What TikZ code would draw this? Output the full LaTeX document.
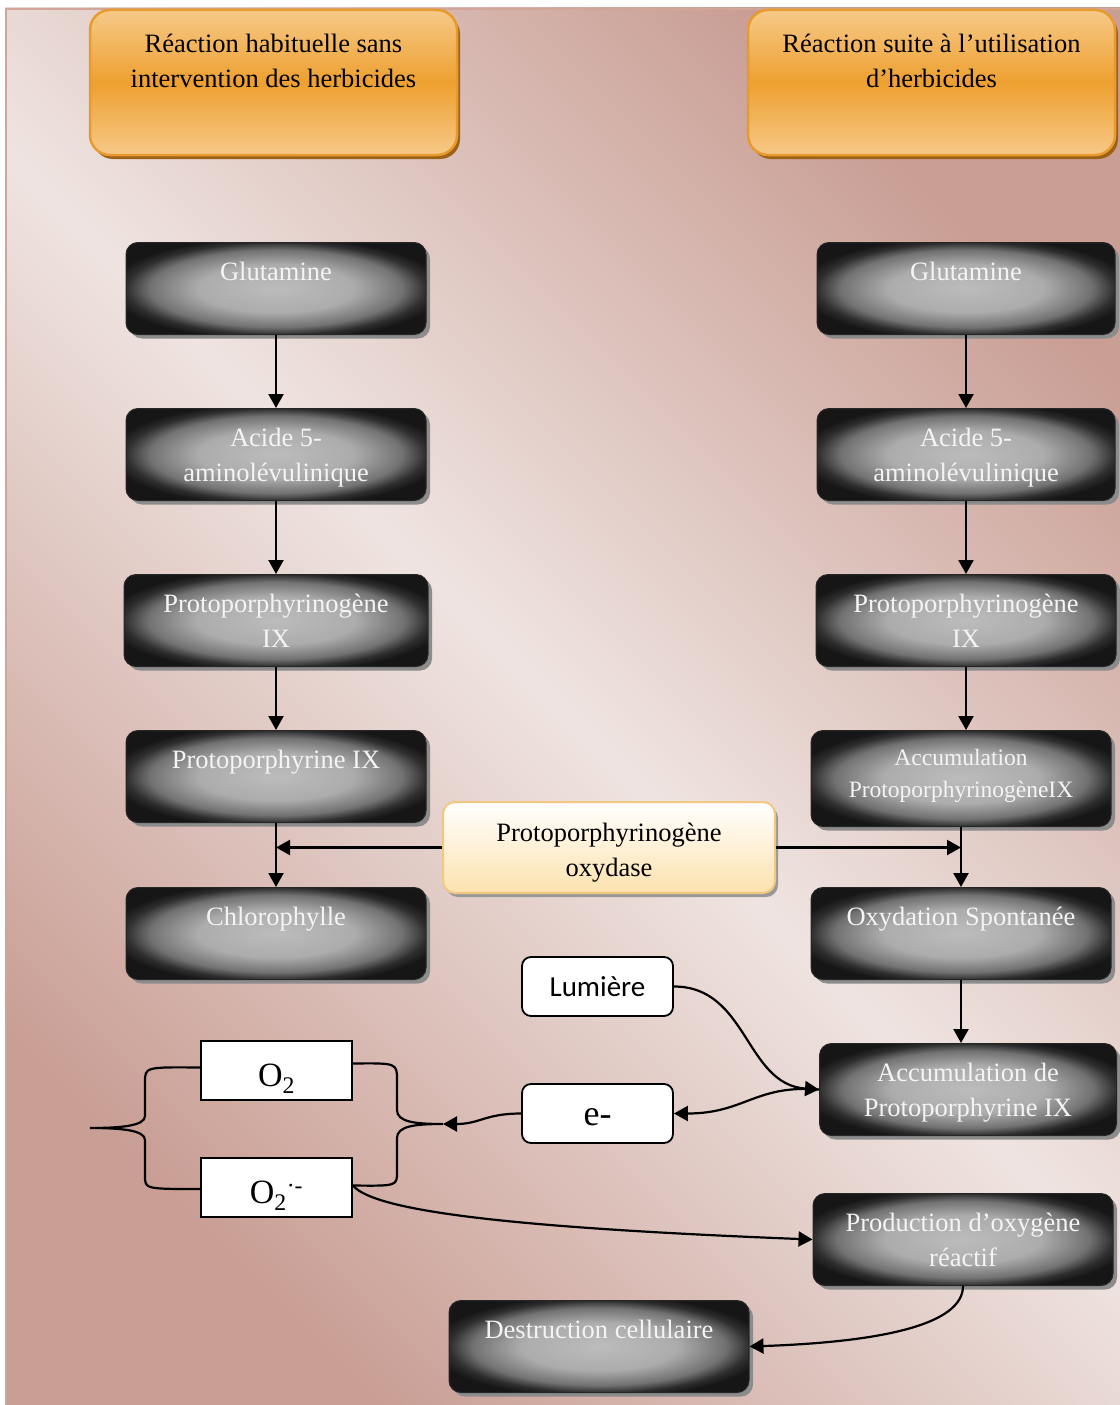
\documentclass[tikz,border=0pt]{standalone}
\usepackage{fontspec}
\setmainfont{Liberation Serif}
\newfontfamily\calibrifont{Carlito}
\usepackage{xcolor}
\usepackage{tikz}
\usetikzlibrary{positioning}
\usetikzlibrary{arrows.meta}
\usetikzlibrary{shadows}
\definecolor{bgdark}{HTML}{C99E94}
\definecolor{bglight}{HTML}{EFE4E1}
\definecolor{framecol}{HTML}{D2A599}
\definecolor{orangemid}{HTML}{EEA030}
\definecolor{orangelight}{HTML}{F6C988}
\definecolor{orangeedge}{HTML}{E99A2C}
\definecolor{orangeshadow}{HTML}{9C6217}
\definecolor{creambottom}{HTML}{FCE2AE}
\definecolor{creamedge}{HTML}{F2C880}
\definecolor{glowgray}{HTML}{BCBCBC}
\definecolor{glowmid}{HTML}{ACACAC}
\definecolor{glowdark}{HTML}{727272}
\definecolor{glowedge}{HTML}{2E2E2E}
\definecolor{glowcorner}{HTML}{161616}
\definecolor{textwhite}{HTML}{F4F4F4}
\pgfdeclareradialshading{boxglow}{\pgfpoint{0bp}{0bp}}{color(0bp)=(glowgray); color(13bp)=(glowmid); color(21bp)=(glowdark); color(25bp)=(glowedge); color(28bp)=(glowcorner); color(50bp)=(glowcorner)}
\newcommand{\boxfont}{\fontsize{26.5pt}{35pt}\selectfont}
\newcommand{\smallboxfont}{\fontsize{23.5pt}{32pt}\selectfont}
\newcommand{\oxfont}{\fontsize{34pt}{40pt}\selectfont}

\begin{document}
\begin{tikzpicture}[x=1pt, y=-1pt,
headbox/.style={rectangle, rounded corners=20pt, minimum width=367pt, minimum height=145pt, inner sep=0pt, top color=orangelight, bottom color=orangelight, middle color=orangemid, draw=orangeedge, line width=2.5pt, drop shadow={shadow xshift=3pt, shadow yshift=-4pt, fill=orangeshadow, opacity=1}},
blackbox/.style={rectangle, rounded corners=12pt, minimum width=300pt, minimum height=92pt, inner sep=0pt, shade, shading=boxglow, draw=black!85, line width=1pt, drop shadow={shadow xshift=4pt, shadow yshift=-4pt, fill=black!45, opacity=1}},
enzbox/.style={rectangle, rounded corners=12pt, minimum width=332pt, minimum height=91pt, inner sep=0pt, top color=white, bottom color=creambottom, draw=creamedge, line width=2pt, drop shadow={shadow xshift=3pt, shadow yshift=-4pt, fill=black!40, opacity=1}},
lightbox/.style={rectangle, rounded corners=9pt, minimum width=151pt, minimum height=59pt, inner sep=0pt, fill=white, draw=black, line width=1.8pt},
oxbox/.style={rectangle, minimum width=151pt, minimum height=59pt, inner sep=0pt, fill=white, draw=black, line width=1.8pt, font=\oxfont, text height=31pt, text depth=0pt},
headtext/.style={label={[anchor=north, yshift=-25pt, inner sep=0pt, align=center, font=\boxfont]north:#1}},
boxtext/.style={label={[anchor=north, yshift=-20pt, inner sep=0pt, align=center, text=textwhite, font=\boxfont]north:#1}},
smalltext/.style={label={[anchor=north, yshift=-19pt, inner sep=0pt, align=center, text=textwhite, font=\smallboxfont]north:#1}},
enztext/.style={label={[anchor=north, yshift=-22pt, inner sep=0pt, align=center, font=\boxfont]north:#1}},
conn/.style={line width=2.2pt, black},
arr/.style={conn, -{Triangle[length=14pt, width=15pt]}},
]
\useasboundingbox (0,0) rectangle (1119,1405);
\shade[top color=bgdark, bottom color=bgdark, middle color=bglight, shading angle=-45] (5,8) rectangle (1121,1407);
\draw[framecol, line width=2.5pt] (6,9) rectangle (1125,1410);

%Nodes
\node[headbox, headtext={Réaction habituelle sans\\intervention des herbicides}]	(headL)	at (273.5,82.5)	{};
\node[headbox, headtext={Réaction suite à l’utilisation\\d’herbicides}]	(headR)	at (931.5,82.5)	{};

\node[blackbox, boxtext={Glutamine}]	(gluL)	at (276,288.5)	{};
\node[blackbox, boxtext={Acide 5-\\aminolévulinique}]	(acideL)	[below=73pt of gluL]	{};
\node[blackbox, minimum width=304pt, boxtext={Protoporphyrinogène\\IX}]	(progenL)	[below=73pt of acideL]	{};
\node[blackbox, boxtext={Protoporphyrine IX}]	(protoL)	[below=63pt of progenL]	{};
\node[blackbox, boxtext={Chlorophylle}]	(chloL)	[below=64pt of protoL]	{};

\node[blackbox, minimum width=298pt, boxtext={Glutamine}]	(gluR)	at (966,288.5)	{};
\node[blackbox, minimum width=298pt, boxtext={Acide 5-\\aminolévulinique}]	(acideR)	[below=73pt of gluR]	{};
\node[blackbox, boxtext={Protoporphyrinogène\\IX}]	(progenR)	[below=73pt of acideR]	{};
\node[blackbox, minimum height=96pt, smalltext={Accumulation\\ProtoporphyrinogèneIX}]	(accuR)	[below=63pt of progenR, xshift=-5pt]	{};
\node[blackbox, boxtext={Oxydation Spontanée}]	(oxyR)	[below=60pt of accuR]	{};
\node[blackbox, minimum width=297pt, boxtext={Accumulation de\\Protoporphyrine IX}]	(accproR)	[below=63pt of oxyR, xshift=7pt]	{};
\node[blackbox, boxtext={Production d’oxygène\\réactif}]	(prodR)	[below=57pt of accproR, xshift=-5pt]	{};
\node[blackbox, boxtext={Destruction cellulaire}]	(destr)	at (599,1346.5)	{};

\node[enzbox, enztext={Protoporphyrinogène\\oxydase}]	(oxyd)	at (609,847.5)	{};

\node[lightbox, font=\calibrifont\fontsize{29pt}{34pt}\selectfont]	(lum)	at (597.5,986.5)	{Lumière};
\node[lightbox, font=\fontsize{36pt}{40pt}\selectfont, text height=23pt, text depth=0pt]	(elec)	at (597.5,1113.5)	{e-};
\node[oxbox]	(otwo)	at (276.5,1070.5)	{O\textsubscript{2}};
\node[oxbox]	(osup)	at (276.5,1187.5)	{O\textsubscript{2}\textsuperscript{·-}};

\coordinate (tipR) at (443,1124);
\coordinate (tipL) at (90,1128);

%Lines
\draw[arr] (gluL) -- (acideL);
\draw[arr] (acideL) -- (progenL);
\draw[arr] (progenL) -- (protoL);
\draw[arr] (protoL) -- (chloL);
\draw[arr] (gluR) -- (acideR);
\draw[arr] (acideR) -- (progenR);
\draw[arr] (progenR.south) -- (progenR.south |- accuR.north);
\draw[arr] (accuR) -- (oxyR);
\draw[arr] (oxyR.south) -- (oxyR.south |- accproR.north);
\draw[arr] (oxyd.west) -- (oxyd.west -| chloL.north);
\draw[arr] (oxyd.east) -- (oxyd.east -| accuR.south);
\draw[arr] (lum.east) .. controls (748,986.5) and (745,1084.5) .. (accproR.west);
\draw[arr] (accproR.west) .. controls (755,1084.5) and (745,1113.5) .. (elec.east);
\draw[arr] (elec.west) .. controls (485,1113.5) and (480,1124) .. (tipR);
\draw[conn] ([yshift=7pt]otwo.east) .. controls (397,1063) and (397,1063) .. (397,1080) -- (397,1110) .. controls (397,1122) and (415,1124) .. (tipR) .. controls (415,1124) and (397,1126) .. (397,1138) -- (397,1172) .. controls (397,1186) and (397,1186) .. ([yshift=2pt]osup.east);
\draw[conn] ([yshift=3pt]otwo.west) .. controls (145,1067) and (145,1067) .. (145,1082) -- (145,1116) .. controls (145,1126) and (120,1128) .. (tipL) .. controls (120,1128) and (145,1130) .. (145,1140) -- (145,1176) .. controls (145,1189) and (145,1189) .. ([yshift=-1.5pt]osup.west);
\draw[arr] ([yshift=2pt]osup.east) .. controls (375,1212) and (520,1228) .. (prodR.west);
\draw[arr] (prodR.south) .. controls (963,1325) and (880,1342) .. (destr.east);
\end{tikzpicture}
\end{document}
